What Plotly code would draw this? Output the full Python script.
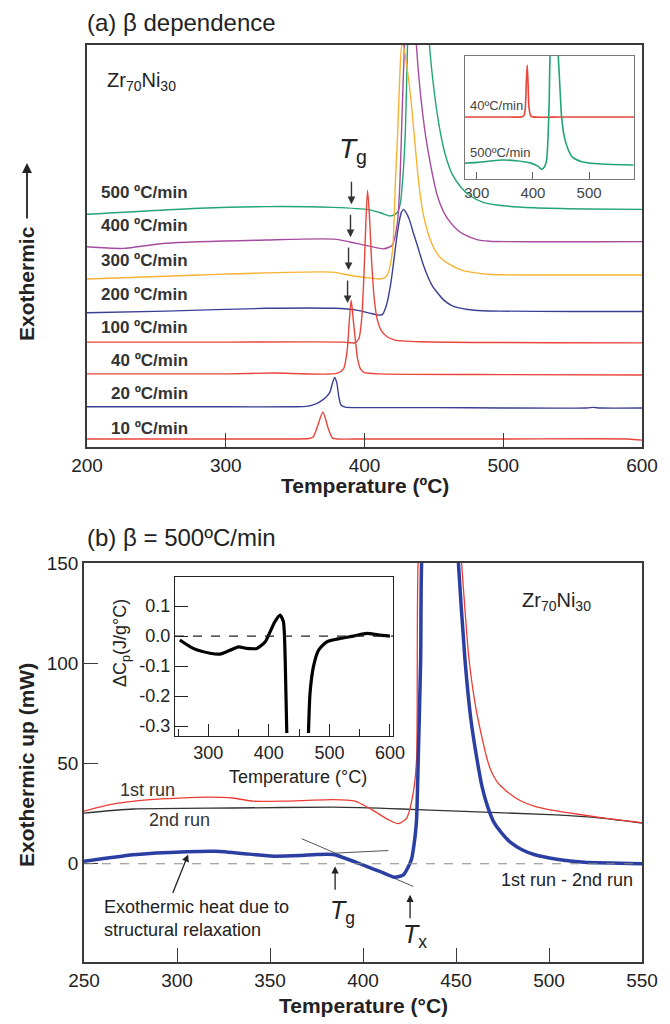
import plotly.graph_objects as go

W, H = 670, 1024
OFF = 8  # page body margin of the written html
def px(x): return (x - OFF) / W
def py(y): return 1 - (y - OFF) / H

FONT = "Liberation Sans, Arial, Helvetica, sans-serif"

# ---------------- Panel (a): beta dependence (arb. units, 0-100) ----------------
T_10 = [200, 250, 300, 350, 360, 363, 366, 370, 374, 377, 380, 400, 500, 590, 600]
v_10 = [2.0, 2.0, 2.0, 2.0, 2.1, 2.5, 5.0, 8.7, 4.5, 2.2, 2.0, 2.0, 2.0, 2.0, 1.7]

T_20 = [200, 300, 350, 358, 364, 368, 372, 375, 377, 378.5, 380, 381.5, 383, 386, 400, 450, 500, 560, 565, 570, 600]
v_20 = [10.0, 10.0, 10.0, 10.1, 10.6, 11.3, 12.3, 13.6, 16.0, 17.3, 16.0, 12.5, 10.5, 9.9, 9.8, 9.8, 9.7, 9.7, 9.85, 9.7, 9.7]

T_40 = [200, 300, 334, 380, 385, 387.5, 389, 390.4, 391.8, 393.3, 395, 397, 400, 410, 500, 600]
v_40 = [18.2, 18.2, 18.4, 18.3, 19.5, 24, 31, 36.6, 32, 27, 22, 19.5, 18.5, 18.2, 18.0, 17.9]

T_100 = [200, 300, 385, 393, 396, 398, 399.5, 401, 402.2, 403.5, 405, 407, 409, 412, 416, 422, 440, 600]
v_100 = [26.1, 26.1, 26.1, 25.9, 27, 32, 42, 56, 63.9, 58, 47, 37, 32, 29, 27.5, 26.6, 26.2, 25.9]

T_200 = [200, 257, 329, 378, 395, 405, 410, 413, 416, 419, 421, 423, 425, 426.5, 428.3, 430, 432.4, 435,
         438.4, 442, 445.6, 449, 452.7, 457, 462.3, 468, 474.3, 485, 498.3, 550, 600]
v_200 = [33.4, 33.8, 34.5, 34.5, 34.0, 33.2, 32.8, 33.0, 35.5, 40.8, 46, 51.5, 56, 58.3, 59.1, 58.3, 56.5, 53.5,
         49.8, 45.7, 42.4, 40.0, 38.3, 36.6, 35.3, 34.6, 34.2, 33.9, 33.8, 33.7, 33.7]

T_300 = [200, 281, 377, 391, 405, 411, 415, 417, 419, 420.5, 422.3, 424, 425.5, 427, 428.5, 430, 433, 436, 439,
         442, 446, 450, 455, 461, 470, 480, 491, 600]
v_300 = [41.8, 42.8, 43.5, 42.6, 42.0, 41.8, 42.2, 43.3, 46, 50, 66, 79, 93, 100.5, 99, 96, 88, 77, 66,
         58.5, 53, 49.5, 47, 45.5, 44, 43.3, 42.9, 42.8]

T_400 = [200, 226, 257, 329, 378, 395, 414, 420, 423.7, 425.6, 427, 428.8, 432, 435.5, 437.4, 440, 444, 448,
         452.5, 457, 462, 467, 472, 481, 490, 600]
v_400 = [49.8, 49.4, 50.7, 51.5, 51.7, 50.6, 49.3, 50.2, 55.7, 66.4, 82, 100, 125, 115, 100, 89, 77.5, 69.5,
         62.5, 58.5, 55.8, 54, 52.8, 51.6, 51.2, 51.1]

T_500 = [200, 281, 329, 377, 403.6, 412, 418, 421, 424, 426, 427.5, 429.5, 431, 434, 438, 442, 446.8, 450.4,
         454, 458, 463, 469.8, 476, 486, 500, 522, 560, 600]
v_500 = [57.9, 59.4, 59.8, 59.6, 59.0, 58.2, 57.5, 57.7, 58.5, 61, 66.4, 78.9, 100, 130, 145, 130, 100, 88,
         79.5, 73, 68, 64.5, 62.5, 60.8, 60.0, 59.5, 59.2, 59.1]

rates = ["500 ºC/min", "400 ºC/min", "300 ºC/min", "200 ºC/min", "100 ºC/min", "40 ºC/min", "20 ºC/min", "10 ºC/min"]
rate_T = [T_500, T_400, T_300, T_200, T_100, T_40, T_20, T_10]
rate_v = [v_500, v_400, v_300, v_200, v_100, v_40, v_20, v_10]
rate_colors = ["#21A574", "#A54C9E", "#F7B233", "#3A3F95", "#E9453B", "#E9453B", "#3A3F95", "#E9453B"]
label_v = [63.2, 55.0, 46.3, 38.0, 29.8, 21.4, 13.2, 4.7]

tg_arrow_T = [390.6, 389.9, 388.5, 387.8]
tg_arrow_v = [60.4, 52.2, 44.0, 35.8]

# inset of panel (a)
Ti_40 = [279, 350, 380, 384, 386.5, 388.3, 389.8, 391.3, 393, 396, 400, 450, 580]
vi_40 = [50.4, 50.4, 50.5, 51.5, 58, 80, 92.7, 78, 58, 51.5, 50.5, 50.4, 50.4]
Ti_500 = [279, 300, 344, 370, 398, 410, 415.5, 420, 424.4, 427, 429, 430.5, 437, 445, 448, 451, 456, 463, 470,
          487, 522.6, 579]
vi_500 = [12.8, 13.5, 15.4, 14.8, 12.7, 10, 7.9, 9.5, 15.4, 35, 64, 100, 140, 100, 75, 50.7, 34, 23.6, 18,
          14.1, 12.2, 11.4]

# ---------------- Panel (b): beta = 500 ºC/min (mW) ----------------
Tb_2nd = [250, 276.5, 330, 384, 420.8, 450.7, 500.5, 528, 550]
vb_2nd = [25.3, 27.3, 27.8, 28.2, 27.3, 26.2, 24.5, 22.8, 20.3]

Tb_1st = [250, 264, 285.5, 316, 330, 341, 357, 384, 395.7, 404.7, 413.6, 419, 423.5, 427, 428.8, 429.6, 440,
          453, 457, 461, 466.5, 469, 472, 475, 478, 481.5, 485, 492, 500, 510, 528, 550]
vb_1st = [26.2, 29.5, 32, 33.2, 32.8, 31.2, 31.2, 32, 31.2, 27, 22, 20, 22.8, 35.3, 52, 150, 330,
          150, 102, 76, 53, 46, 41, 38, 35.5, 33.2, 31.3, 28.7, 27, 25.5, 23, 20.5]

Tb_diff = [250, 276.5, 305, 321, 339, 351.8, 366, 375, 384, 396.6, 409, 417, 421.7, 426, 428, 428.8, 429.7,
           431, 431.5, 441, 451.3, 454.8, 458, 461.3, 464, 467, 470.5, 474.7, 479.5, 485.5, 492, 499.5, 509, 519, 550]
vb_diff = [1.2, 4.5, 6.0, 6.2, 4.8, 3.8, 4.1, 4.6, 4.6, 0.6, -3.8, -6.7, -5.5, 2, 13.7, 22, 52,
           102, 150, 330, 150, 102, 72, 52, 38.5, 28.5, 20.5, 15.2, 10.5, 7, 4.6, 3, 1.6, 0.7, 0]

tanA_T = [367, 427]
tanA_v = [12.5, -11.3]
tanB_T = [385, 413.6]
tanB_v = [5.3, 6.6]

# inset of panel (b): delta Cp (J/g°C)
Tc_1 = [253, 275, 303, 319, 336, 350, 363.5, 380, 394, 402, 410, 418.6, 424, 427, 429.6]
vc_1 = [-0.013, -0.041, -0.057, -0.06, -0.047, -0.036, -0.041, -0.041, -0.019, 0.014, 0.048, 0.07, 0.048,
        -0.08, -0.323]
Tc_2 = [465.4, 468, 473.6, 482, 495.7, 517.7, 539.7, 561.8, 580, 600]
vc_2 = [-0.323, -0.19, -0.102, -0.047, -0.019, -0.008, 0.0, 0.009, 0.004, 0.0]

# ---------------- Figure ----------------
fig = go.Figure()

SM = 0.6
for T, v, c in zip(rate_T, rate_v, rate_colors):
    fig.add_trace(go.Scatter(x=T, y=v, mode="lines", line=dict(color=c, width=1.4, shape="spline", smoothing=SM),
                             xaxis="x", yaxis="y", hoverinfo="skip"))

fig.add_trace(go.Scatter(x=Ti_40, y=vi_40, mode="lines", line=dict(color="#E9453B", width=1.6, shape="spline", smoothing=SM),
                         xaxis="x2", yaxis="y2"))
fig.add_trace(go.Scatter(x=Ti_500, y=vi_500, mode="lines", line=dict(color="#21A574", width=1.6, shape="spline", smoothing=SM),
                         xaxis="x2", yaxis="y2"))

fig.add_trace(go.Scatter(x=Tb_2nd, y=vb_2nd, mode="lines", line=dict(color="#333333", width=1.3, shape="spline", smoothing=SM),
                         xaxis="x3", yaxis="y3"))
fig.add_trace(go.Scatter(x=Tb_1st, y=vb_1st, mode="lines", line=dict(color="#EE3B33", width=1.3, shape="spline", smoothing=SM),
                         xaxis="x3", yaxis="y3"))
fig.add_trace(go.Scatter(x=tanA_T, y=tanA_v, mode="lines", line=dict(color="#555555", width=1),
                         xaxis="x3", yaxis="y3"))
fig.add_trace(go.Scatter(x=tanB_T, y=tanB_v, mode="lines", line=dict(color="#555555", width=1),
                         xaxis="x3", yaxis="y3"))
fig.add_trace(go.Scatter(x=Tb_diff, y=vb_diff, mode="lines", line=dict(color="#2B3FA3", width=3.5, shape="spline", smoothing=SM),
                         xaxis="x3", yaxis="y3"))

fig.add_trace(go.Scatter(x=Tc_1, y=vc_1, mode="lines", line=dict(color="black", width=3.2, shape="spline", smoothing=SM),
                         xaxis="x4", yaxis="y4"))
fig.add_trace(go.Scatter(x=Tc_2, y=vc_2, mode="lines", line=dict(color="black", width=3.2, shape="spline", smoothing=SM),
                         xaxis="x4", yaxis="y4"))

axcol = "#3a3a3a"
tickfont_main = dict(family=FONT, size=19, color="#222")

common_box = dict(showline=True, mirror=True, linecolor=axcol, linewidth=1.5, showgrid=False, zeroline=False,
                  automargin=False)

layout = dict(
    width=W, height=H, margin=dict(l=0, r=0, t=0, b=0, autoexpand=False),
    paper_bgcolor="white", plot_bgcolor="white", showlegend=False,
    font=dict(family=FONT, color="#222"),
    xaxis=dict(domain=[px(87), px(642)], anchor="y", range=[200, 600], dtick=100, tick0=200,
               ticks="inside", ticklen=14, tickwidth=1.3, tickcolor=axcol, tickfont=tickfont_main, **common_box),
    yaxis=dict(domain=[py(447), py(45)], anchor="x", range=[0, 100], showticklabels=False, ticks="", **common_box),
    xaxis2=dict(domain=[px(465), px(634)], anchor="y2", range=[279, 580], tickvals=[300, 400, 500],
                ticks="inside", ticklen=7, tickwidth=1.2, tickcolor="#666",
                tickfont=dict(family=FONT, size=15, color="#444"),
                showline=True, mirror=True, linecolor="#777", linewidth=1.3, showgrid=False, zeroline=False,
                automargin=False),
    yaxis2=dict(domain=[py(179), py(56)], anchor="x2", range=[0, 100], showticklabels=False, ticks="",
                showline=True, mirror=True, linecolor="#777", linewidth=1.3, showgrid=False, zeroline=False,
                automargin=False),
    xaxis3=dict(domain=[px(84), px(642)], anchor="y3", range=[250, 550], dtick=50, tick0=250,
                ticks="inside", ticklen=14, tickwidth=1.3, tickcolor=axcol, tickfont=tickfont_main, **common_box),
    yaxis3=dict(domain=[py(962), py(563)], anchor="x3", range=[-49, 150], tickvals=[0, 50, 100, 150],
                ticks="inside", ticklen=14, tickwidth=1.3, tickcolor=axcol, tickfont=tickfont_main, **common_box),
    xaxis4=dict(domain=[px(175), px(393)], anchor="y4", range=[245, 605], tickvals=[300, 400, 500, 600],
                ticks="inside", ticklen=12, tickwidth=1.3, tickcolor="#222",
                minor=dict(tickvals=[250, 350, 450, 550], ticks="inside", ticklen=7, tickwidth=1.3, tickcolor="#222"),
                tickfont=dict(family=FONT, size=18, color="#222"),
                showline=True, mirror=True, linecolor="#222", linewidth=1.4, showgrid=False, zeroline=False,
                automargin=False),
    yaxis4=dict(domain=[py(736), py(577)], anchor="x4", range=[-0.333, 0.197],
                tickvals=[0.1, 0.0, -0.1, -0.2, -0.3], ticktext=["0.1", "0.0", "-0.1", "-0.2", "-0.3"],
                ticks="inside", ticklen=13, tickwidth=1.3, tickcolor="#222",
                tickfont=dict(family=FONT, size=18, color="#222"),
                showline=True, mirror=True, linecolor="#222", linewidth=1.4, showgrid=False, zeroline=False,
                automargin=False),
)
fig.update_layout(**layout)

shapes = [
    dict(type="line", xref="x3 domain", yref="y3", x0=0, x1=1, y0=0, y1=0,
         line=dict(color="#888", width=1, dash="dash")),
    dict(type="line", xref="x4 domain", yref="y4", x0=0, x1=1, y0=0, y1=0,
         line=dict(color="#222", width=1.3, dash="dash")),
]
fig.update_layout(shapes=shapes)

ann = []
def text(x, y, s, size, xanchor="left", color="#222", angle=0, **kw):
    ann.append(dict(x=px(x), y=py(y), xref="paper", yref="paper", text=s, showarrow=False,
                    xanchor=xanchor, yanchor="middle", textangle=angle,
                    font=dict(family=FONT, size=size, color=color), **kw))

# titles
text(85, 22, "(a) β dependence", 24)
text(85, 537, "(b) β = 500ºC/min", 24)
# axis titles
text(365, 485, "<b>Temperature (ºC)</b>", 21, xanchor="center")
text(26, 284, "<b>Exothermic</b>", 21, xanchor="center", angle=-90)
ann.append(dict(x=px(27), y=py(163), xref="paper", yref="paper", text="", showarrow=True,
                ax=0, ay=57, arrowhead=2, arrowsize=1.1, arrowwidth=1.8, arrowcolor="#222"))
text(363, 1005, "<b>Temperature (°C)</b>", 21, xanchor="center")
text(26, 765, "<b>Exothermic up (mW)</b>", 21, xanchor="center", angle=-90)
text(298, 777, "Temperature (°C)", 18, xanchor="center")
text(121, 643, "ΔC<sub>p</sub>(J/g°C)", 18, xanchor="center", angle=-90)

# panel (a) texts
text(105, 81, "Zr<sub>70</sub>Ni<sub>30</sub>", 20)
for lab, lv in zip(rates, label_v):
    ann.append(dict(x=274.5, y=lv, xref="x", yref="y", text="<b>" + lab + "</b>", showarrow=False,
                    xanchor="right", yanchor="middle", font=dict(family=FONT, size=17, color="#333")))
text(353, 150, "<i>T</i><sub>g</sub>", 28, xanchor="center")
for t, v in zip(tg_arrow_T, tg_arrow_v):
    ann.append(dict(x=t, y=v, xref="x", yref="y", text="", showarrow=True, ax=0, ay=-24,
                    arrowhead=2, arrowsize=1.1, arrowwidth=1.4, arrowcolor="#333"))
text(468, 105, "40ºC/min", 13, color="#444")
text(468, 152, "500ºC/min", 13, color="#444")

# panel (b) texts
text(520, 601, "Zr<sub>70</sub>Ni<sub>30</sub>", 20)
text(118, 790, "1st run", 18, color="#333")
text(147, 820, "2nd run", 18, color="#333")
text(635, 880, "1st run - 2nd run", 18, xanchor="right", color="#222")
text(102, 918, "Exothermic heat due to<br>structural relaxation", 18, align="left")
ann.append(dict(x=306, y=4.6, xref="x3", yref="y3", text="", showarrow=True, ax=-16, ay=40,
                arrowhead=2, arrowsize=1.1, arrowwidth=1.3, arrowcolor="#222"))
ann.append(dict(x=385, y=-1.3, xref="x3", yref="y3", text="", showarrow=True, ax=0, ay=25,
                arrowhead=2, arrowsize=1.1, arrowwidth=1.3, arrowcolor="#222"))
ann.append(dict(x=425.3, y=-15.5, xref="x3", yref="y3", text="", showarrow=True, ax=0, ay=25,
                arrowhead=2, arrowsize=1.1, arrowwidth=1.3, arrowcolor="#222"))
text(342, 912, "<i>T</i><sub>g</sub>", 25, xanchor="center")
text(415, 936, "<i>T</i><sub>x</sub>", 25, xanchor="center")

fig.update_layout(annotations=ann)
fig.write_html("out.html")
